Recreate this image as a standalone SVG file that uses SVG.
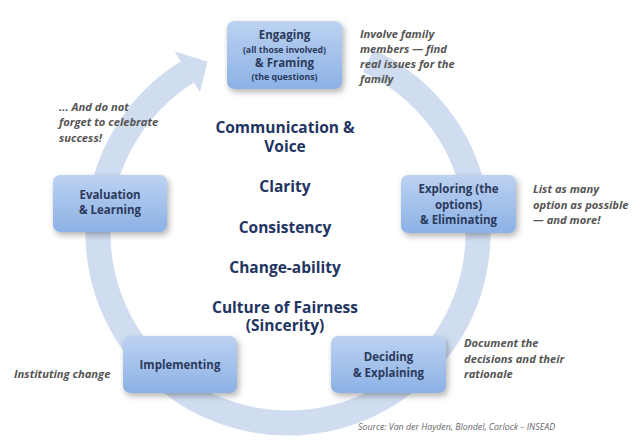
<svg xmlns="http://www.w3.org/2000/svg" width="640" height="445" viewBox="0 0 640 445">
<defs>
<linearGradient id="bx" x1="0" y1="0" x2="0" y2="1">
<stop offset="0" stop-color="#bcd2f1"/>
<stop offset="1" stop-color="#8cb1e5"/>
</linearGradient>
<filter id="sh" x="-20%" y="-20%" width="150%" height="160%">
<feDropShadow dx="2" dy="3" stdDeviation="3" flood-color="#000" flood-opacity="0.3"/>
</filter>
<style>
.box{fill:url(#bx);filter:url(#sh)}
.bt{font-family:"Open Sans","DejaVu Sans",sans-serif;font-weight:bold;fill:#2b3a5c;text-anchor:middle;font-size:11.5px}
.bs{font-size:8.8px}
.note{font-family:"Open Sans","DejaVu Sans",sans-serif;font-weight:bold;font-style:italic;fill:#555;font-size:11.2px}
.ctr{font-family:"Open Sans","DejaVu Sans",sans-serif;font-weight:bold;fill:#1f3462;text-anchor:middle;font-size:15.5px}
.src{font-family:"Open Sans","DejaVu Sans",sans-serif;font-style:italic;fill:#666;font-size:8.8px}
</style>
</defs>
<rect width="640" height="445" fill="#fff"/>
<g id="connectors">
<path d="M368.3,60.8 A190,190 0 1 1 187.3,71.9" fill="none" stroke="#d0ddf0" stroke-width="25"/>
<polygon points="174.6,51.5 200.0,92.2 207.5,61.5" fill="#d0ddf0"/>
</g>
<g id="engaging">
<rect class="box" x="227" y="21" width="115" height="68" rx="7"/>
<text class="bt" x="284.5" y="39">Engaging</text>
<text class="bt bs" x="284.5" y="52.5">(all those involved)</text>
<text class="bt" x="284.5" y="67">&amp; Framing</text>
<text class="bt bs" x="284.5" y="80">(the questions)</text>
</g>
<g id="exploring">
<rect class="box" x="401" y="175" width="115" height="58" rx="7"/>
<text class="bt" x="458.5" y="193">Exploring (the</text>
<text class="bt" x="458.5" y="209">options)</text>
<text class="bt" x="458.5" y="224">&amp; Eliminating</text>
</g>
<g id="evaluation">
<rect class="box" x="53" y="175" width="114" height="57" rx="7"/>
<text class="bt" x="110" y="199">Evaluation</text>
<text class="bt" x="110" y="214">&amp; Learning</text>
</g>
<g id="implementing">
<rect class="box" x="123" y="336" width="114" height="57" rx="7"/>
<text class="bt" x="180" y="369">Implementing</text>
</g>
<g id="deciding">
<rect class="box" x="331" y="336" width="115" height="57" rx="7"/>
<text class="bt" x="388.5" y="361">Deciding</text>
<text class="bt" x="388.5" y="377">&amp; Explaining</text>
</g>
<g id="notes">
<text class="note" x="360" y="38">Involve family</text>
<text class="note" x="360" y="53">members — find</text>
<text class="note" x="360" y="68">real issues for the</text>
<text class="note" x="360" y="83">family</text>
<text class="note" x="533" y="193">List as many</text>
<text class="note" x="533" y="209">option as possible</text>
<text class="note" x="533" y="224">— and more!</text>
<text class="note" x="59" y="111">... And do not</text>
<text class="note" x="59" y="126">forget to celebrate</text>
<text class="note" x="59" y="142">success!</text>
<text class="note" x="14" y="378">Instituting change</text>
<text class="note" x="464" y="347">Document the</text>
<text class="note" x="464" y="363">decisions and their</text>
<text class="note" x="464" y="378">rationale</text>
<text class="src" x="358" y="430">Source: Van der Hayden, Blondel, Carlock – INSEAD</text>
</g>
<g id="center">
<text class="ctr" x="285" y="133">Communication &amp;</text>
<text class="ctr" x="285" y="152">Voice</text>
<text class="ctr" x="285" y="192">Clarity</text>
<text class="ctr" x="285" y="233">Consistency</text>
<text class="ctr" x="285" y="273">Change-ability</text>
<text class="ctr" x="285" y="313">Culture of Fairness</text>
<text class="ctr" x="285" y="331">(Sincerity)</text>
</g>
</svg>
